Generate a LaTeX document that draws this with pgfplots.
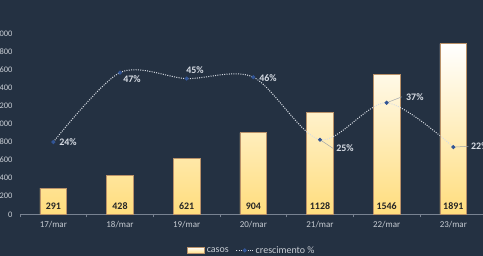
\documentclass[border=0pt]{standalone}
\usepackage{pgfplots}
\pgfplotsset{compat=1.18}
\usepackage{fontspec}
\setmainfont{Carlito}
\definecolor{bg}{RGB}{36,49,66}
\definecolor{axisgray}{RGB}{120,130,145}
\definecolor{labelgray}{RGB}{200,205,212}
\definecolor{baryellow}{RGB}{255,221,125}
\definecolor{barborder}{RGB}{185,145,105}
\definecolor{linecol}{RGB}{215,220,228}
\definecolor{markblue}{RGB}{50,85,150}
\definecolor{leadercol}{RGB}{160,165,172}
\definecolor{darktext}{RGB}{38,38,38}
\begin{document}
\begin{tikzpicture}
\fill[bg] (-20bp,-41.7bp) rectangle (463bp,214.3bp);
\begin{axis}[
  at={(0,0)}, anchor=south west,
  scale only axis, width=466.67bp, height=180.6bp,
  xmin=-0.5, xmax=6.5, ymin=0, ymax=2000,
  axis x line*=bottom, axis y line*=left,
  x axis line style={draw=axisgray, line width=0.8bp, -},
  y axis line style={draw=none},
  xtick={0,...,6},
  xticklabels={17/mar,18/mar,19/mar,20/mar,21/mar,22/mar,23/mar},
  minor xtick={-0.5,0.5,...,6.5},
  ytick={0,200,...,2000},
  major tick length=0pt,
  minor tick length=3bp,
  tick align=outside,
  minor x tick style={draw=axisgray, line width=0.6bp},
  xticklabel style={font=\fontsize{9}{10}\selectfont, text=labelgray, yshift=-3bp},
  yticklabel style={font=\fontsize{8.5}{10}\selectfont, text=labelgray, anchor=east, xshift=-4bp},
  /pgf/number format/assume math mode=true,
  /pgf/number format/1000 sep={.},
  clip=false,
]
\addplot[ybar, bar width=26.7bp, draw=barborder, line width=0.6bp,
  top color=white, bottom color=baryellow]
  coordinates {(0,291) (1,428) (2,621) (3,904) (4,1128) (5,1546) (6,1891)};
\addplot[draw=none, mark=none, nodes near coords, point meta=explicit symbolic,
  every node near coord/.append style={anchor=center, yshift=8.3bp,
    font=\bfseries\fontsize{10}{11}\selectfont, text=darktext}]
  coordinates {(0,0)[291] (1,0)[428] (2,0)[621] (3,0)[904] (4,0)[1128] (5,0)[1546] (6,0)[1891]};
\end{axis}
\begin{axis}[
  at={(0,0)}, anchor=south west,
  scale only axis, width=466.67bp, height=180.6bp,
  xmin=-0.5, xmax=6.5, ymin=0, ymax=60,
  hide axis, clip=false,
  legend columns=2,
  legend style={draw=none, fill=none, text=labelgray,
    font=\fontsize{10}{11}\selectfont,
    at={(0.497,-0.2)}, anchor=center,
    /tikz/every even column/.append style={column sep=5bp}},
  legend cell align=left,
]
\addlegendimage{legend image code/.code={
  \draw[draw=barborder, line width=0.5bp, top color=white, bottom color=baryellow]
    (0bp,-3.3bp) rectangle (17bp,3.3bp);}}
\addlegendentry{casos}
\draw[leadercol, line width=0.5bp] (axis cs:4,24.78) -- ++(13bp,-8.6bp);
\draw[leadercol, line width=0.5bp] (axis cs:5,37.06) -- ++(15.4bp,6bp);
\draw[leadercol, line width=0.5bp] (axis cs:6,22.32) -- ++(15bp,0.8bp);
\addplot[smooth, color=linecol, line width=1bp, dash pattern=on 1bp off 1.3bp,
  mark=*, mark size=1.5bp, mark options={solid, fill=markblue, draw=markblue},
  nodes near coords={\pgfplotspointmeta\%}, point meta=explicit symbolic,
  visualization depends on={\thisrow{dx} \as \dx},
  visualization depends on={\thisrow{dy} \as \dy},
  every node near coord/.append style={anchor=center, xshift=\dx bp, yshift=\dy bp,
    font=\bfseries\fontsize{10}{11}\selectfont, text=linecol}]
  table[x=x, y=y, meta=lab] {
x y lab dx dy
0 24 24 14.7 0
1 47.08 47 12 -7
2 45.09 45 8.4 8.4
3 45.57 46 14.7 -1
4 24.78 25 25 -8.7
5 37.06 37 28.2 5.7
6 22.32 22 26.5 0.6
};
\addlegendentry{crescimento \%}
\end{axis}
\pgfresetboundingbox
\path[use as bounding box] (-20bp,-41.7bp) rectangle (463bp,214.3bp);
\end{tikzpicture}
\end{document}
